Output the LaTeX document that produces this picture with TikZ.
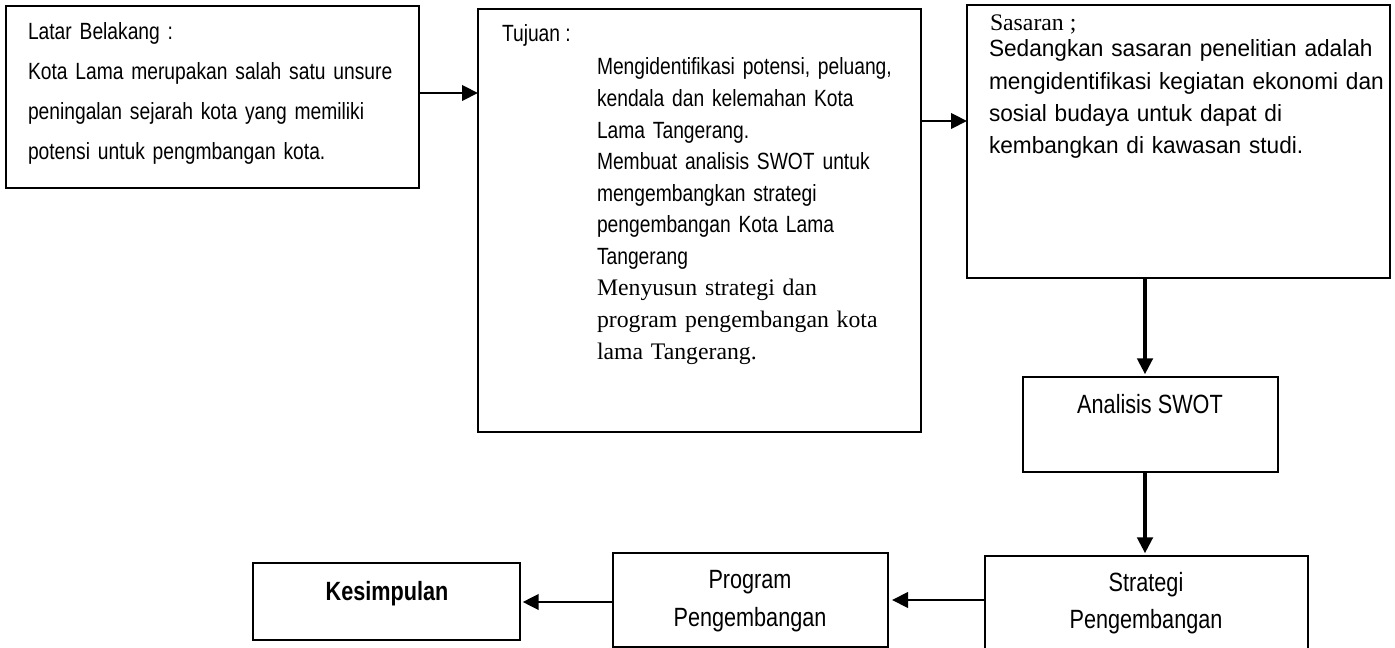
\documentclass[tikz,border=0pt]{standalone}
\usepackage{fontspec}
\setmainfont{Liberation Sans}
\newfontfamily\nar{Liberation Sans}[FakeStretch=0.82]
\newfontfamily\sas{Liberation Sans}[FakeStretch=0.965]
\newfontfamily\tms{Liberation Serif}
\usetikzlibrary{arrows.meta,calc,fit}
\begin{document}
\begin{tikzpicture}[x=0.75pt,y=-0.75pt,
  box/.style={draw=black,line width=2.2pt,inner sep=0pt,outer sep=0pt},
  arr/.style={line width=2.2pt,-{Triangle[length=12pt,width=11.5pt]}},
  varr/.style={arr,line width=2.8pt},
  txt/.style={inner sep=0pt,outer sep=0pt}]
\useasboundingbox (0,0) rectangle (1395,648);
\clip (0,0) rectangle (1395,648);
% boxes
\node[box,fit={(6,6)(419,188)}] (latar) {};
\node[box,fit={(478,9)(921,432)}] (tujuan) {};
\node[box,fit={(967,5)(1390,278)}] (sasaran) {};
\node[box,fit={(1023,377)(1278,472)}] (swot) {};
\node[box,fit={(985,556)(1308,653)}] (strategi) {};
\node[box,fit={(613,553)(888,647)}] (program) {};
\node[box,fit={(253,563)(520,640)}] (kesimpulan) {};
% texts
\node[txt,anchor=base west,text width=277.5pt,font=\nar\fontsize{17.6}{30}\selectfont] (latartxt) at (28,40)
 {Latar Belakang :\\\makebox[277.5pt][s]{Kota Lama merupakan salah satu unsure}\\\makebox[277.5pt][s]{peningalan sejarah kota yang memiliki}\\potensi untuk pengmbangan kota.};
\node[txt,anchor=base west,font=\nar\fontsize{17.6}{20}\selectfont] (tujuanhead) at (502,42) {Tujuan :};
\node[txt,anchor=base west,text width=240pt,font=\nar\fontsize{17.6}{23.67}\selectfont] (tujuantxt) at (597,75)
 {Mengidentifikasi potensi, peluang,\\kendala dan kelemahan Kota\\Lama Tangerang.\\Membuat analisis SWOT untuk\\mengembangkan strategi\\pengembangan Kota Lama\\Tangerang\\{\tms\fontsize{17.8}{23.67}\selectfont Menyusun strategi dan}\\{\tms\fontsize{17.8}{23.67}\selectfont program pengembangan kota}\\{\tms\fontsize{17.8}{23.67}\selectfont lama Tangerang.}};
\node[txt,anchor=base west,font=\tms\fontsize{17.8}{20}\selectfont] (sasaranhead) at (990,31) {Sasaran ;};
\node[txt,anchor=base west,text width=330pt,font=\sas\fontsize{17.6}{24.2}\selectfont] (sasarantxt) at (989,57)
 {Sedangkan sasaran penelitian adalah\\mengidentifikasi kegiatan ekonomi dan\\sosial budaya untuk dapat di\\kembangkan di kawasan studi.};
\node[txt,anchor=base,font=\nar\fontsize{19.8}{22}\selectfont] (swottxt) at (1150,413) {Analisis SWOT};
\node[txt,anchor=base,text width=200pt,align=center,font=\nar\fontsize{19.8}{27.75}\selectfont] (strategitxt) at (1146,591) {Strategi\\Pengembangan};
\node[txt,anchor=base,text width=200pt,align=center,font=\nar\fontsize{19.8}{28.5}\selectfont] (programtxt) at (750,588) {Program\\Pengembangan};
\node[txt,anchor=base,font=\nar\bfseries\fontsize{19.8}{22}\selectfont] (kesimpulantxt) at (387,600) {Kesimpulan};
% connectors
\coordinate (ya) at (0,93);
\coordinate (yb) at (0,121);
\coordinate (xa) at (1145,0);
\coordinate (yc) at (0,600);
\coordinate (yd) at (0,602);
\draw[arr] (latar.east |- ya) -- (tujuan.west |- ya);
\draw[arr] (tujuan.east |- yb) -- (sasaran.west |- yb);
\draw[varr,shorten >=2pt] (sasaran.south -| xa) -- (swot.north -| xa);
\draw[varr,shorten >=2pt] (swot.south -| xa) -- (strategi.north -| xa);
\draw[arr,shorten >=3pt] (strategi.west |- yc) -- (program.east |- yc);
\draw[arr,shorten >=2pt] (program.west |- yd) -- (kesimpulan.east |- yd);
\end{tikzpicture}
\end{document}
